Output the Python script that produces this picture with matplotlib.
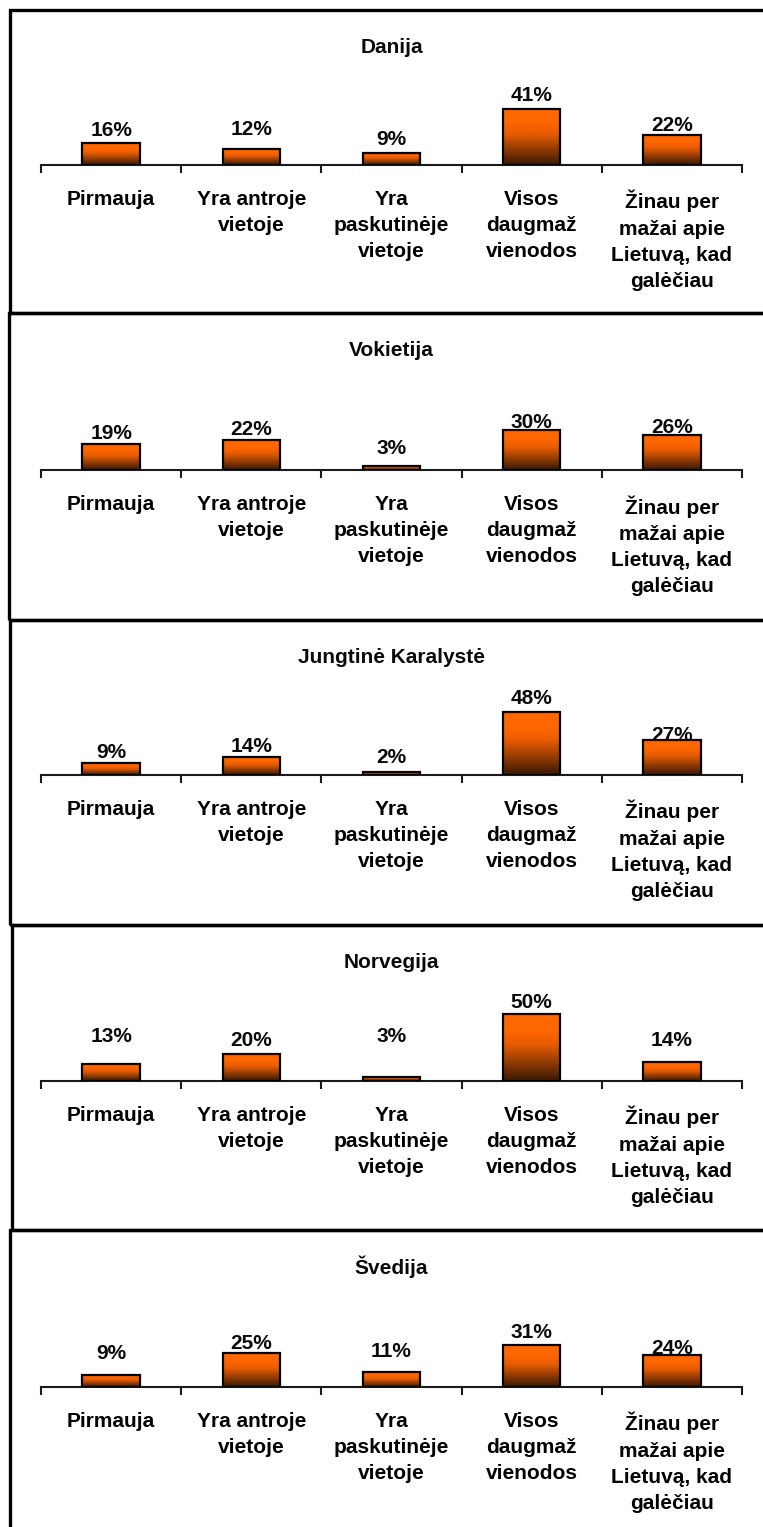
import numpy as np
import matplotlib
matplotlib.use('Agg')
import matplotlib.pyplot as plt
from matplotlib.patches import Rectangle
from matplotlib.colors import LinearSegmentedColormap

plt.rcParams['font.family'] = ['Liberation Sans', 'DejaVu Sans']
plt.rcParams['font.weight'] = 'bold'
plt.rcParams['text.color'] = '#0a0a0a'

# data
countries = ['Danija', 'Vokietija', 'Jungtinė Karalystė', 'Norvegija', 'Švedija']
categories = ['Pirmauja',
              'Yra antroje\nvietoje',
              'Yra\npaskutinėje\nvietoje',
              'Visos\ndaugmaž\nvienodos',
              'Žinau per\nmažai apie\nLietuvą, kad\ngalėčiau']
danija = [16, 12, 9, 41, 22]
vokietija = [19, 22, 3, 30, 26]
jungtine_karalyste = [9, 14, 2, 48, 27]
norvegija = [13, 20, 3, 50, 14]
svedija = [9, 25, 11, 31, 24]
values = [danija, vokietija, jungtine_karalyste, norvegija, svedija]

# layout in pixels of the 763x1527 picture
W, H = 763, 1527
panel_top = [9.5, 313, 619.5, 925, 1230]
panel_bottom = [313, 619.5, 925, 1230, 1545]
panel_left = [10, 9, 10, 12, 9.5]
baseline = [165, 470, 775, 1081, 1387]
px_per_pct = [1.37, 1.35, 1.31, 1.34, 1.35]
# value label baseline above bar top (pixels)
label_off = [[7, 14, 8, 8, 4],
             [5, 5.5, 12, 2, 1.5],
             [5.5, 4.7, 9, 8.5, -1],
             [22, 8.5, 34.5, 5.5, 16.7],
             [15.4, 4.7, 15, 7.6, 1]]

cmap = LinearSegmentedColormap.from_list(
    'bar', [(0, '#3a1804'), (0.55, '#e85c00'), (0.75, '#ff6600'), (1, '#ff6a00')])
grad = np.linspace(0, 1, 256).reshape(-1, 1)

fig = plt.figure(figsize=(W / 100, H / 100), dpi=100)
fs = 15

for k in range(5):
    # panel frame
    fig.add_artist(Rectangle((panel_left[k] / W, 1 - panel_bottom[k] / H),
                             (790 - panel_left[k]) / W,
                             (panel_bottom[k] - panel_top[k]) / H,
                             transform=fig.transFigure, fill=False,
                             ec='black', lw=2.4))
    fig.text(391.5 / W, 1 - (panel_top[k] + 43.5) / H, countries[k],
             ha='center', va='baseline', fontsize=fs, fontweight='bold')

    ax_h = 120
    ax = fig.add_axes([41 / W, 1 - baseline[k] / H, 701 / W, ax_h / H])
    ax.patch.set_alpha(0)
    vals = values[k]
    bars = ax.bar(range(5), vals, width=0.41, color='none',
                  edgecolor='black', linewidth=1.6, zorder=3)
    for b in bars:
        ax.imshow(grad, extent=[b.get_x(), b.get_x() + b.get_width(), 0, b.get_height()],
                  aspect='auto', cmap=cmap, origin='lower', zorder=2)
    for i, v in enumerate(vals):
        ax.annotate(f'{v}%', xy=(i, v), xytext=(0, label_off[k][i]),
                    textcoords='offset pixels', ha='center', va='baseline',
                    fontsize=fs, fontweight='bold', clip_on=False)
    ax.set_xlim(-0.5, 4.5)
    ax.set_ylim(0, ax_h / px_per_pct[k])

    for s in ['top', 'left', 'right']:
        ax.spines[s].set_visible(False)
    ax.spines['bottom'].set_linewidth(1.5)
    ax.spines['bottom'].set_color('#1a1a1a')
    ax.set_yticks([])
    ax.set_xticks(range(5))
    ax.set_xticklabels(categories, fontsize=fs, fontweight='bold', linespacing=1.48)
    ax.set_xticks(np.arange(-0.5, 5, 1), minor=True)
    ax.tick_params(axis='x', which='major', length=0, pad=18)
    ax.tick_params(axis='x', which='minor', length=5.8, width=1.5,
                   direction='out', color='#1a1a1a')

fig.savefig('out.png', dpi=100)
